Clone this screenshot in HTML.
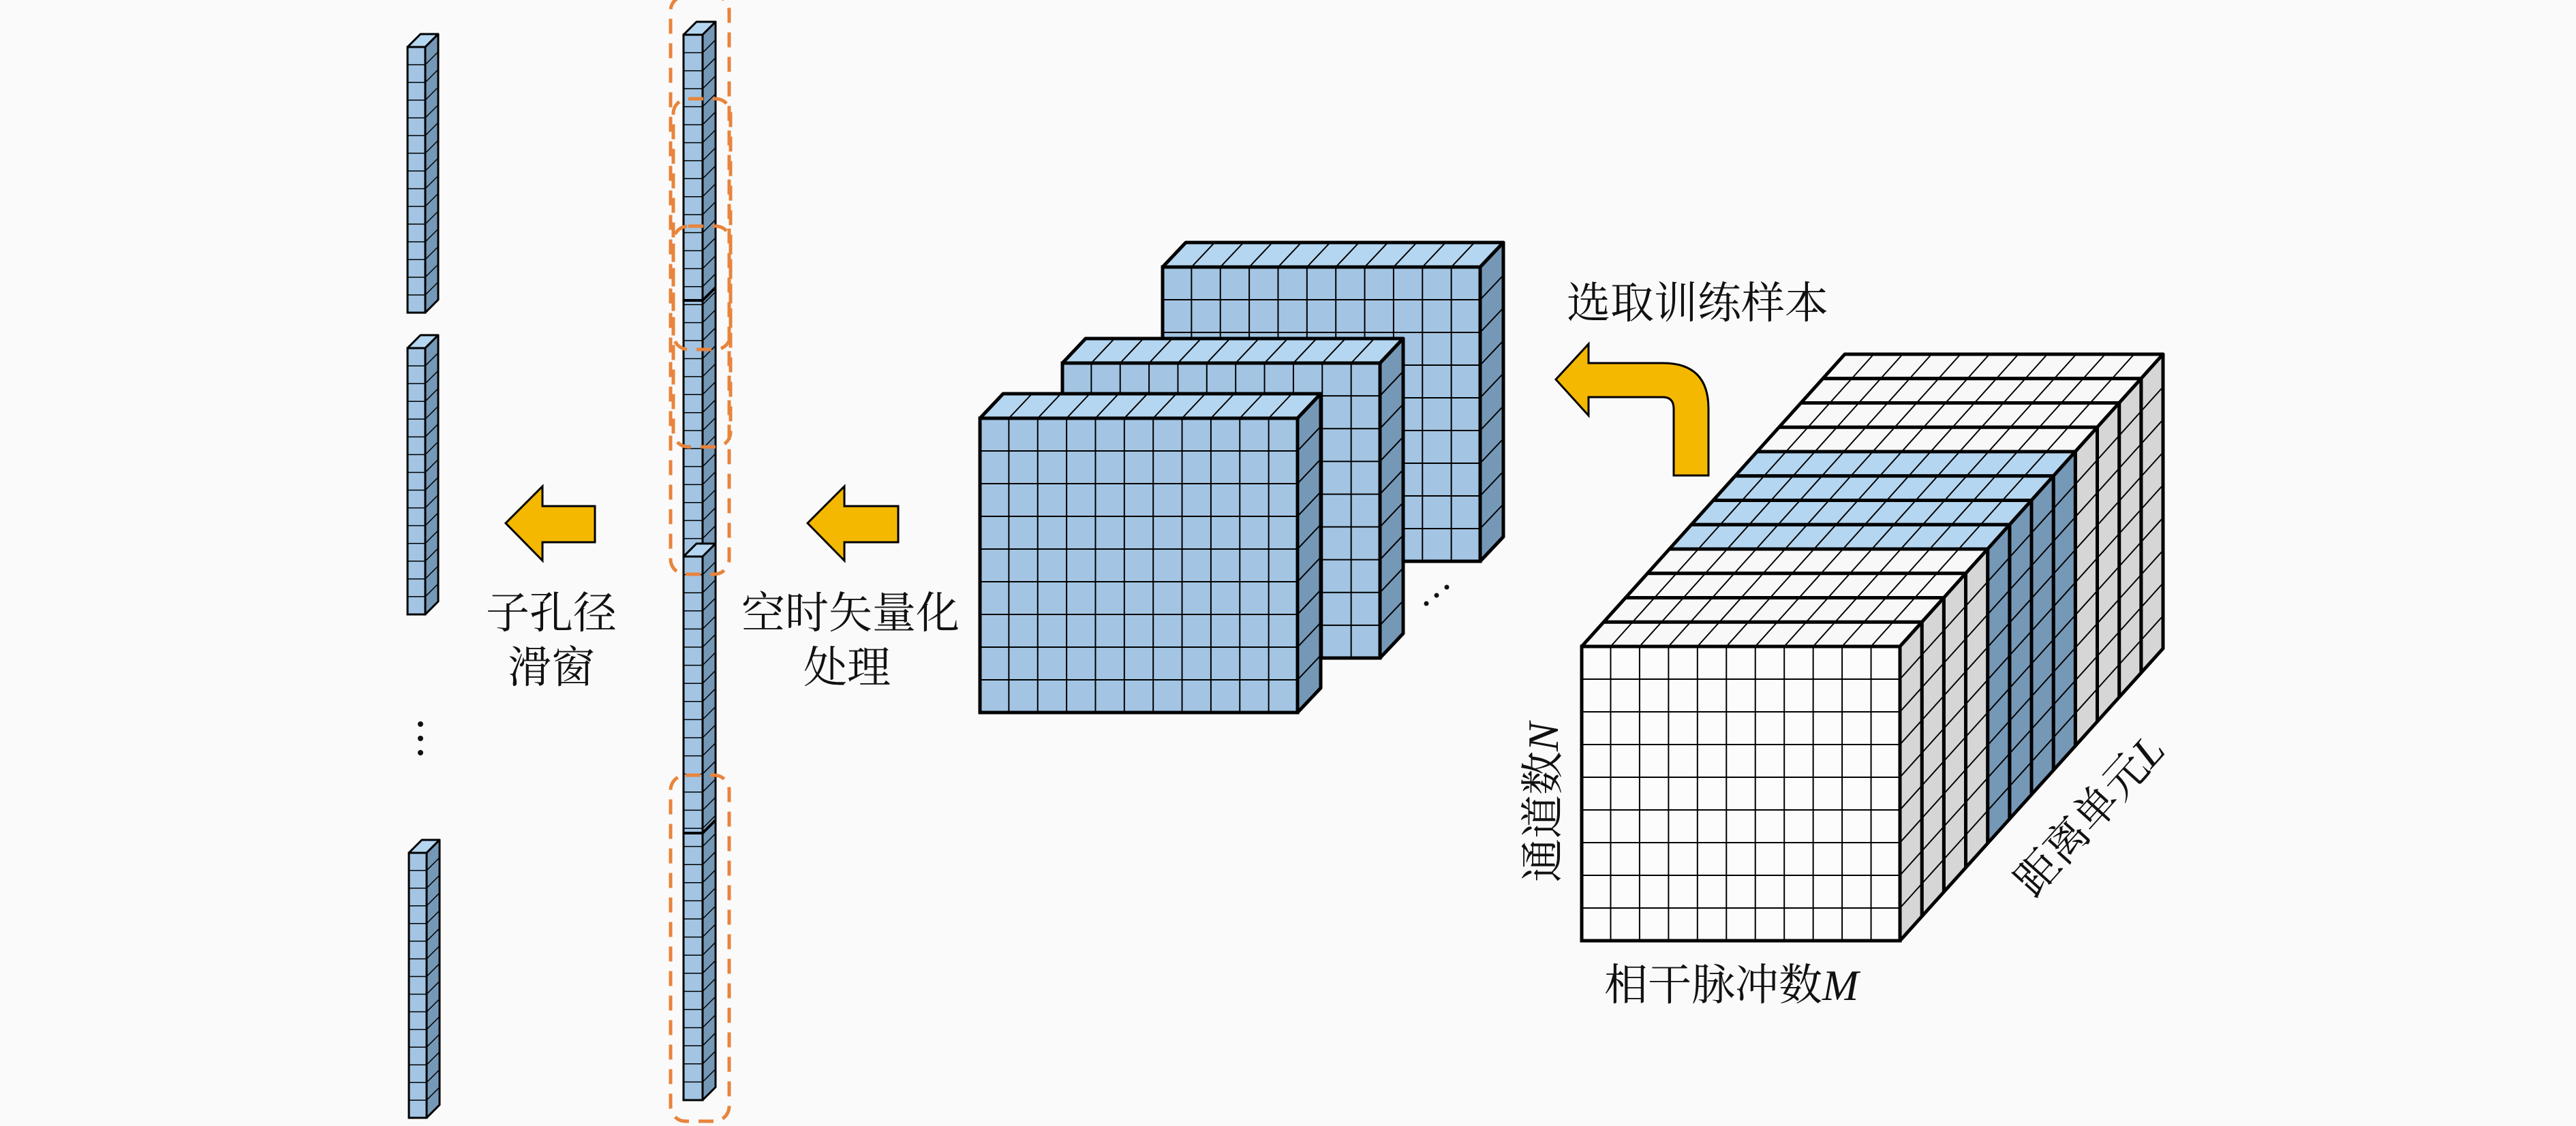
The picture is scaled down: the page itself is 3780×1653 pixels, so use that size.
<!DOCTYPE html>
<html><head><meta charset="utf-8"><style>
html,body{margin:0;padding:0;background:#fafafa;}
svg{display:block}
.t{font-family:"Liberation Serif","Noto Serif CJK SC",serif;font-size:64px;fill:#111}
.i{font-family:"Liberation Serif",serif;font-style:italic}
</style></head><body>
<svg id="s" xmlns="http://www.w3.org/2000/svg" width="3780" height="1653" viewBox="0 0 3780 1653">
<rect width="3780" height="1653" fill="#fafafa"/>
<g id="g"></g>
<path d="M742,768 L796,714 L796,743 L873,743 L873,796 L796,796 L796,823 Z" fill="#f5b800" stroke="#000" stroke-width="3"/>
<path d="M1185,768 L1239,714 L1239,743 L1318,743 L1318,796 L1239,796 L1239,823 Z" fill="#f5b800" stroke="#000" stroke-width="3"/>
<path d="M2456,698 L2456,600 Q2456,583 2440,583 L2331,583 L2331,610 L2283,557 L2331,505 L2331,533 L2440,533 Q2507,533 2507,600 L2507,698 Z" fill="#f5b800" stroke="#000" stroke-width="3"/>
<circle cx="617" cy="1063" r="4" fill="#111"/><circle cx="617" cy="1084" r="4" fill="#111"/><circle cx="617" cy="1105" r="4" fill="#111"/>
<circle cx="2093" cy="886" r="3.5" fill="#111"/><circle cx="2108" cy="874" r="3.5" fill="#111"/><circle cx="2123" cy="862" r="3.5" fill="#111"/>
<text class="t" x="713" y="922">子孔径</text>
<text class="t" x="745" y="1002">滑窗</text>
<text class="t" x="1088" y="922">空时矢量化</text>
<text class="t" x="1179" y="1002">处理</text>
<text class="t" x="2299" y="467">选取训练样本</text>
<text class="t" x="2354" y="1468">相干脉冲数<tspan class="i">M</tspan></text>
<text class="t" transform="translate(2286,1295) rotate(-90)">通道数<tspan class="i">N</tspan></text>
<text class="t" transform="translate(2985,1320) rotate(-48)">距离单元<tspan class="i">L</tspan></text>
</svg>
<script>
var g=document.getElementById('g'),NS='http://www.w3.org/2000/svg';
function el(t,a){var e=document.createElementNS(NS,t);for(var k in a)e.setAttribute(k,a[k]);g.appendChild(e);return e;}
function P(pts){return pts.map(function(p){return p[0]+','+p[1]}).join(' ');}
function ln(x1,y1,x2,y2,w){el('line',{x1:x1,y1:y1,x2:x2,y2:y2,stroke:'#000','stroke-width':w});}
function box(x,y,w,h,cols,rows,dx,dy,ff,ft,fr,front,tw,gw){
 var cw=w/cols,rh=h/rows;
 el('polygon',{points:P([[x,y],[x+w,y],[x+w+dx,y+dy],[x+dx,y+dy]]),fill:ft,stroke:'#000','stroke-width':tw,'stroke-linejoin':'round'});
 for(var i=1;i<cols;i++)ln(x+i*cw,y,x+i*cw+dx,y+dy,gw);
 el('polygon',{points:P([[x+w,y],[x+w+dx,y+dy],[x+w+dx,y+h+dy],[x+w,y+h]]),fill:fr,stroke:'#000','stroke-width':tw,'stroke-linejoin':'round'});
 for(var j=1;j<rows;j++)ln(x+w,y+j*rh,x+w+dx,y+j*rh+dy,gw);
 if(front){
  el('rect',{x:x,y:y,width:w,height:h,fill:ff,stroke:'none'});
  for(var i=1;i<cols;i++)ln(x+i*cw,y,x+i*cw,y+h,gw);
  for(var j=1;j<rows;j++)ln(x,y+j*rh,x+w,y+j*rh,gw);
  el('rect',{x:x,y:y,width:w,height:h,fill:'none',stroke:'#000','stroke-width':tw});
 }
}
var BF='#a3c5e3',BT='#b5d6f0',BR='#7598b7';
box(598,69,26,390,1,15,19,-19,BF,BT,BR,true,3,1.5);
box(598,511,26,391,1,15,19,-19,BF,BT,BR,true,3,1.5);
box(600,1252,26,389,1,15,19,-19,BF,BT,BR,true,3,1.5);
// middle long bar
box(1003,51,28,766,1,29,19,-19,BF,BT,BR,true,3,1.5);
ln(1003,441,1031,441,4);ln(1031,441,1050,422,4);
box(1003,817,28,798,1,30,19,-19,BF,BT,BR,true,3,1.5);
ln(1003,1223,1031,1223,4);ln(1031,1223,1050,1204,4);
function db(x,y,w,h){el('rect',{x:x,y:y,width:w,height:h,rx:22,ry:22,fill:'none',stroke:'#e8843c','stroke-width':5,'stroke-dasharray':'22 14'});}
db(984,-6,86,849);db(988,145,84,511);db(988,332,84,181);db(984,1138,86,508);
box(1706,392,466,432,11,9,34,-36,BF,BT,BR,true,5,2);
box(1559,533,466,433,11,9,34,-36,BF,BT,BR,true,5,2);
box(1438,614,466,432,11,9,34,-36,BF,BT,BR,true,5,2);
var n=12,ddx=386/12,ddy=-429/12;
for(var k=n-1;k>=0;k--){
 var blue=(k>=4&&k<=7);
 box(2321+k*ddx,949+k*ddy,467,432,11,9,ddx,ddy,'#fcfcfc',blue?BT:'#f8f8f8',blue?BR:'#d6d6d6',k==0,5,2);
}
</script>
</body></html>
